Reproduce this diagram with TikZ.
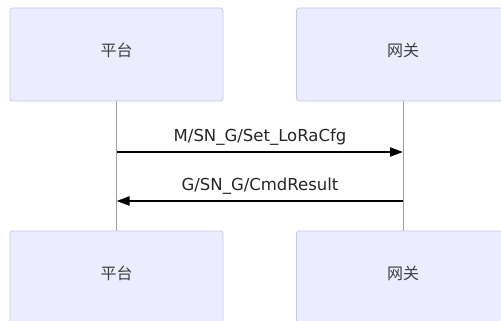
\documentclass[tikz,border=0pt]{standalone}
\usepackage{fontspec}
\setmainfont{DejaVu Sans}
\newfontfamily\cjk{Noto Sans CJK SC}
\usetikzlibrary{arrows.meta}
\definecolor{boxfill}{HTML}{ECECFF}
\definecolor{boxline}{HTML}{C8C8E6}
\definecolor{lifeline}{HTML}{A0A0A0}
\begin{document}
\begin{tikzpicture}[x=1pt,y=-1pt,
  actor/.style={draw=boxline,fill=boxfill,rounded corners=2.5pt,line width=0.8pt,
    minimum width=213pt,minimum height=93pt,inner sep=0pt},
  actortext/.style={font=\cjk\fontsize{16}{19}\selectfont,text=black!75,inner sep=0pt},
  msg/.style={line width=2pt,-{Triangle[length=13pt,width=9pt]}},
  lbl/.style={font=\fontsize{16.5}{19}\selectfont,text=black!85,inner sep=0pt},
  life/.style={draw=lifeline,line width=0.7pt}]
\useasboundingbox (0,0) rectangle (501,321);
\clip (0,0) rectangle (501,321);
\fill[white] (0,0) rectangle (501,321);
\node[actor] (p1) at (116.5,54.5) {};
\node[actor] (g1) at (403,54.5) {};
\node[actor] (p2) at (116.5,277.5) {};
\node[actor] (g2) at (403,277.5) {};
\node[actortext] (tp1) at (116.5,50) {平台};
\node[actortext] (tg1) at (403,50) {网关};
\node[actortext] (tp2) at (116.5,273) {平台};
\node[actortext] (tg2) at (403,273) {网关};
\draw[life] (p1.south) -- (p2.north);
\draw[life] (g1.south) -- (g2.north);
\coordinate (a1) at (116.5,152);
\coordinate (b1) at (403,152);
\coordinate (a2) at (116.5,201);
\coordinate (b2) at (403,201);
\draw[msg] (a1) -- (b1);
\draw[msg] (b2) -- (a2);
\node[lbl] (l1) at (260,137) {M/SN\_G/Set\_LoRaCfg};
\node[lbl] (l2) at (260,186) {G/SN\_G/CmdResult};
\end{tikzpicture}
\end{document}
